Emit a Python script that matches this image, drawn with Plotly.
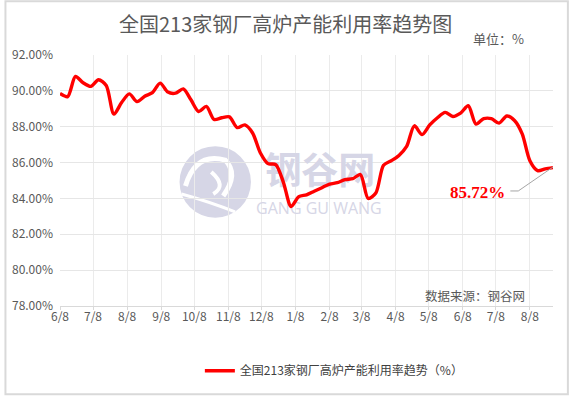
import plotly.graph_objects as go
import pandas as pd

# ---- data ----
start_date = "2023-06-08"
n_weeks = 65
util_rate = [
    89.85, 89.68, 90.80, 90.45, 90.25, 90.62, 90.30, 88.70, 89.35, 89.83,
    89.40, 89.70, 89.90, 90.43, 89.93, 89.87, 90.11, 89.50, 88.85, 89.13,
    88.40, 88.50, 88.55, 87.95, 88.10, 87.65, 86.55, 85.94, 85.89, 84.90,
    83.55, 84.10, 84.20, 84.40, 84.60, 84.80, 84.88, 85.05, 85.10, 85.33,
    84.00, 84.30, 85.85, 86.10, 86.40, 86.90, 88.05, 87.56, 88.10, 88.50,
    88.80, 88.57, 88.76, 89.17, 88.15, 88.45, 88.45, 88.20, 88.60, 88.35,
    87.60, 86.10, 85.55, 85.65, 85.72,
]
tick_dates = ["2023-06-08", "2023-07-08", "2023-08-08", "2023-09-08", "2023-10-08",
              "2023-11-08", "2023-12-08", "2024-01-08", "2024-02-08", "2024-03-08",
              "2024-04-08", "2024-05-08", "2024-06-08", "2024-07-08", "2024-08-08"]
tick_labels = ["6/8", "7/8", "8/8", "9/8", "10/8", "11/8", "12/8", "1/8", "2/8",
               "3/8", "4/8", "5/8", "6/8", "7/8", "8/8"]
y_ticks = [78, 80, 82, 84, 86, 88, 90, 92]
y_tick_labels = ["78.00%", "80.00%", "82.00%", "84.00%", "86.00%", "88.00%", "90.00%", "92.00%"]
series_name = "全国213家钢厂高炉产能利用率趋势（%）"
title_text = "全国213家钢厂高炉产能利用率趋势图"
last_label = "85.72%"
y_min, y_max = 78, 92

dates = pd.date_range(start_date, periods=n_weeks, freq="7D")

# ---- layout geometry (pixels) ----
W, H = 570, 397
L, R, T, B = 56, 553, 55, 307
PW, PH = R - L, B - T
span_days = (dates[-1] - dates[0]).days


def px(x):
    return (x - L) / PW


def py(y):
    return (B - y) / PH


def dx(x):
    return dates[0] + pd.Timedelta(days=(x - L) / PW * span_days)


def dy(y):
    return y_max - (y - T) / PH * (y_max - y_min)


FONT = "Noto Sans CJK SC"
GREY = "#595959"
WM = "#d6d6e6"

fig = go.Figure()
# watermark texts drawn under the line
fig.add_trace(go.Scatter(
    x=[dx(318)], y=[dy(175)], mode="text", text=["<b>钢谷网</b>"],
    textfont=dict(family=FONT, size=37, color=WM),
    showlegend=False, hoverinfo="skip"))
fig.add_trace(go.Scatter(
    x=[dx(317)], y=[dy(211)], mode="text", text=["GANG GU WANG"],
    textfont=dict(family="Open Sans", size=16, color=WM),
    showlegend=False, hoverinfo="skip"))
fig.add_trace(go.Scatter(
    x=dates, y=util_rate, mode="lines", name=series_name,
    line=dict(color="#ff0000", width=3.4, shape="spline", smoothing=0.8),
    hoverinfo="skip",
))

shapes = []
# outer frame
shapes.append(dict(type="rect", xref="paper", yref="paper",
                   x0=px(1), x1=px(568), y0=py(1), y1=py(395.5),
                   line=dict(color="#d9d9d9", width=2), layer="below"))
# watermark logo circle
cx, cy, r = 212.5, 182.5, 36
shapes.append(dict(type="circle", xref="paper", yref="paper",
                   x0=px(cx - r), x1=px(cx + r), y0=py(cy + r), y1=py(cy - r),
                   fillcolor=WM, line=dict(width=0), layer="below"))
swirl = ("M {a},{b} Q {c},{d} {e},{f} Q {g},{h} {i},{j}").format(
    a=px(cx - 30), b=py(cy + 4),
    c=px(cx - 20), d=py(cy - 30),
    e=px(cx + 10), f=py(cy - 22),
    g=px(cx + 24), h=py(cy - 8),
    i=px(cx + 8), j=py(cy + 14))
shapes.append(dict(type="path", xref="paper", yref="paper", path=swirl,
                   line=dict(color="white", width=5), layer="below"))
inner = ("M {a},{b} Q {c},{d} {e},{f}").format(
    a=px(cx - 4), b=py(cy - 10),
    c=px(cx + 12), d=py(cy + 4),
    e=px(cx - 2), f=py(cy + 12))
shapes.append(dict(type="path", xref="paper", yref="paper", path=inner,
                   line=dict(color="white", width=4), layer="below"))
tail = ("M {a},{b} Q {c},{d} {e},{f}").format(
    a=px(cx - 34), b=py(cy + 12),
    c=px(cx - 5), d=py(cy + 20),
    e=px(cx + 20), f=py(cy + 30))
shapes.append(dict(type="path", xref="paper", yref="paper", path=tail,
                   line=dict(color="white", width=3), layer="below"))
# leader line for last value
leader = "M {a},{b} L {c},{d} L {e},{f}".format(
    a=px(510), b=py(191.5), c=px(518), d=py(191.5), e=px(553), f=py(167.5))
shapes.append(dict(type="path", xref="paper", yref="paper", path=leader,
                   line=dict(color="#a6a6a6", width=1)))

annotations = [
    dict(text=title_text, xref="paper", yref="paper", x=px(283), y=py(23),
         xanchor="center", yanchor="middle", showarrow=False,
         font=dict(family=FONT, size=20, color=GREY)),
    dict(text="单位：%", xref="paper", yref="paper", x=px(470), y=py(38),
         xanchor="left", yanchor="middle", showarrow=False,
         font=dict(family=FONT, size=13, color=GREY)),
    dict(text="数据来源：钢谷网", xref="paper", yref="paper", x=px(422), y=py(296),
         xanchor="left", yanchor="middle", showarrow=False,
         font=dict(family=FONT, size=12.5, color=GREY)),
    dict(text=last_label, xref="paper", yref="paper", x=px(477), y=py(193),
         xanchor="center", yanchor="middle", showarrow=False,
         font=dict(family="Liberation Serif", size=17, color="#ff0000", weight="bold")),
]

fig.update_layout(
    width=W, height=H,
    margin=dict(l=L, r=W - R, t=T, b=H - B),
    paper_bgcolor="white", plot_bgcolor="white",
    shapes=shapes, annotations=annotations,
    showlegend=True,
    legend=dict(orientation="h", x=px(197), y=py(372), xanchor="left", yanchor="middle",
                font=dict(family=FONT, size=12, color="#404040"),
                bgcolor="rgba(0,0,0,0)"),
    xaxis=dict(type="date", range=[dates[0], dates[-1]],
               tickvals=tick_dates, ticktext=tick_labels,
               showgrid=True, gridcolor="#ebebeb", gridwidth=1,
               showline=True, linecolor="#d9d9d9", linewidth=1,
               ticks="outside", ticklen=3, tickcolor="#d9d9d9",
               ticklabelstandoff=-3,
               tickfont=dict(family=FONT, size=12, color=GREY),
               zeroline=False, fixedrange=True),
    yaxis=dict(range=[y_min, y_max], tickvals=y_ticks, ticktext=y_tick_labels,
               showgrid=True, gridcolor="#e6e6e6", gridwidth=1,
               showline=False, ticks="", ticklabelstandoff=6,
               tickfont=dict(family=FONT, size=12, color=GREY),
               zeroline=False, fixedrange=True),
)

fig.write_html("out.html", config={"displayModeBar": False},
               post_script="document.body.style.margin='0';document.body.style.padding='0';")
